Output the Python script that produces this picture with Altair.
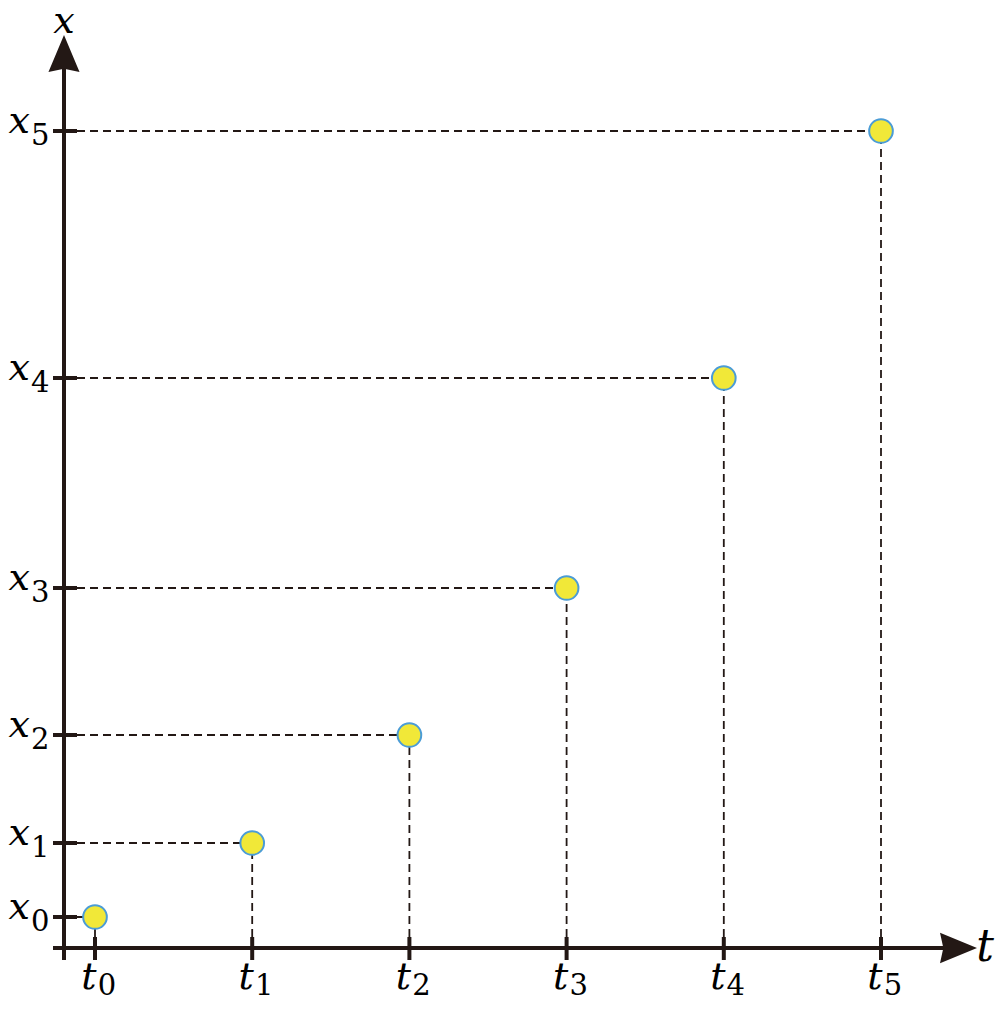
import altair as alt
import pandas as pd

# ---- data ----
T_VALUES = [0, 1, 2, 3, 4, 5]
X_VALUES = [0, 74, 182, 329, 539, 786]
T_SUBS = ["0", "1", "2", "3", "4", "5"]
X_SUBS = ["0", "1", "2", "3", "4", "5"]

# ---- layout constants (in data units) ----
W, H = 989, 994
PX_T = 157.2                      # pixels per t unit
T0_PX = 87                        # plot px of t=0
TMIN = -T0_PX / PX_T
TMAX = (W - T0_PX) / PX_T
VMIN = -85
VMAX = VMIN + H

def t_of(px):   # page x -> t units
    return (px - 8 - T0_PX) / PX_T

def v_of(py):   # page y -> value units
    return 917 - py

AXIS_T = t_of(64)
AXIS_V = v_of(948)
INK = "#231815"
SERIF = "DejaVu Serif"

xs = alt.Scale(domain=[TMIN, TMAX], nice=False, zero=False)
ys = alt.Scale(domain=[VMIN, VMAX], nice=False, zero=False)

def X(f):
    return alt.X(f, type="quantitative", scale=xs, axis=None)

def Y(f):
    return alt.Y(f, type="quantitative", scale=ys, axis=None)

pts = pd.DataFrame({"t": T_VALUES, "x": X_VALUES, "ts": T_SUBS, "xs": X_SUBS})
pts["tick_l"] = t_of(53)
pts["tick_r"] = t_of(77)
pts["vt_top"] = v_of(937)
pts["vt_bot"] = v_of(960)
pts["axis_t"] = AXIS_T
pts["axis_v"] = AXIS_V

axes_df = pd.DataFrame({
    "t1": [t_of(53), AXIS_T],
    "t2": [t_of(948), AXIS_T],
    "v1": [AXIS_V, v_of(960)],
    "v2": [AXIS_V, v_of(66)],
})

arrows_df = pd.DataFrame({
    "t": [AXIS_T, t_of(958.5)],
    "v": [v_of(53.5), AXIS_V],
    "shape": ["M0,-1L0.84,1L0,0.82L-0.84,1Z", "M1,0L-1,0.82L-0.82,0L-1,-0.82Z"],
})

base = alt.Chart(pts)

h_dash = base.mark_rule(color=INK, strokeWidth=1.8, strokeDash=[8, 5]).encode(
    x=X("tick_r"), x2="t", y=Y("x"))
v_dash = base.mark_rule(color=INK, strokeWidth=1.8, strokeDash=[8, 5]).encode(
    x=X("t"), y=Y("vt_top"), y2="x")

axis_lines = alt.Chart(axes_df).mark_rule(color=INK, strokeWidth=4).encode(
    x=X("t1"), x2="t2", y=Y("v1"), y2="v2")

arrows = alt.Chart(arrows_df).mark_point(filled=True, color=INK, opacity=1, size=1369, strokeWidth=0).encode(
    x=X("t"), y=Y("v"), shape=alt.Shape("shape:N", scale=None, legend=None))

y_ticks = base.mark_rule(color=INK, strokeWidth=4).encode(
    x=X("tick_l"), x2="tick_r", y=Y("x"))
t_ticks = base.mark_rule(color=INK, strokeWidth=4).encode(
    x=X("t"), y=Y("vt_top"), y2="vt_bot")

points = base.mark_circle(size=560, color="#f1e838", opacity=1, stroke="#4b9cd6", strokeWidth=2).encode(
    x=X("t"), y=Y("x"))

LET = dict(font=SERIF, fontStyle="italic", fontSize=38, color="black")
SUB = dict(font=SERIF, fontSize=29, color="black")

x_let = base.mark_text(align="right", baseline="alphabetic", dx=-34, dy=2, **LET).encode(
    x=X("axis_t"), y=Y("x"), text=alt.value("x"))
x_sub = base.mark_text(align="left", baseline="alphabetic", dx=-33, dy=14, **SUB).encode(
    x=X("axis_t"), y=Y("x"), text="xs:N")

t_let = base.mark_text(align="center", baseline="alphabetic", dx=-6, dy=41, **LET).encode(
    x=X("t"), y=Y("axis_v"), text=alt.value("t"))
t_sub = base.mark_text(align="center", baseline="alphabetic", dx=12, dy=47, **SUB).encode(
    x=X("t"), y=Y("axis_v"), text="ts:N")

lab_df = pd.DataFrame({"t": [AXIS_T, t_of(985)], "v": [v_of(33), v_of(961)], "txt": ["x", "t"], "fs": [38, 44]})
axis_labels = alt.Chart(lab_df).mark_text(align="center", baseline="alphabetic", font=SERIF,
                                          fontStyle="italic", color="black").encode(
    x=X("t"), y=Y("v"), text="txt:N", size=alt.Size("fs:Q", scale=None, legend=None))

chart = alt.layer(
    h_dash, v_dash, axis_lines, arrows, y_ticks, t_ticks, points,
    x_let, x_sub, t_let, t_sub, axis_labels
).properties(width=W, height=H, autosize="none", padding=0).configure_view(stroke=None)

chart.save("out.html", embed_options={"renderer": "svg", "actions": False})
